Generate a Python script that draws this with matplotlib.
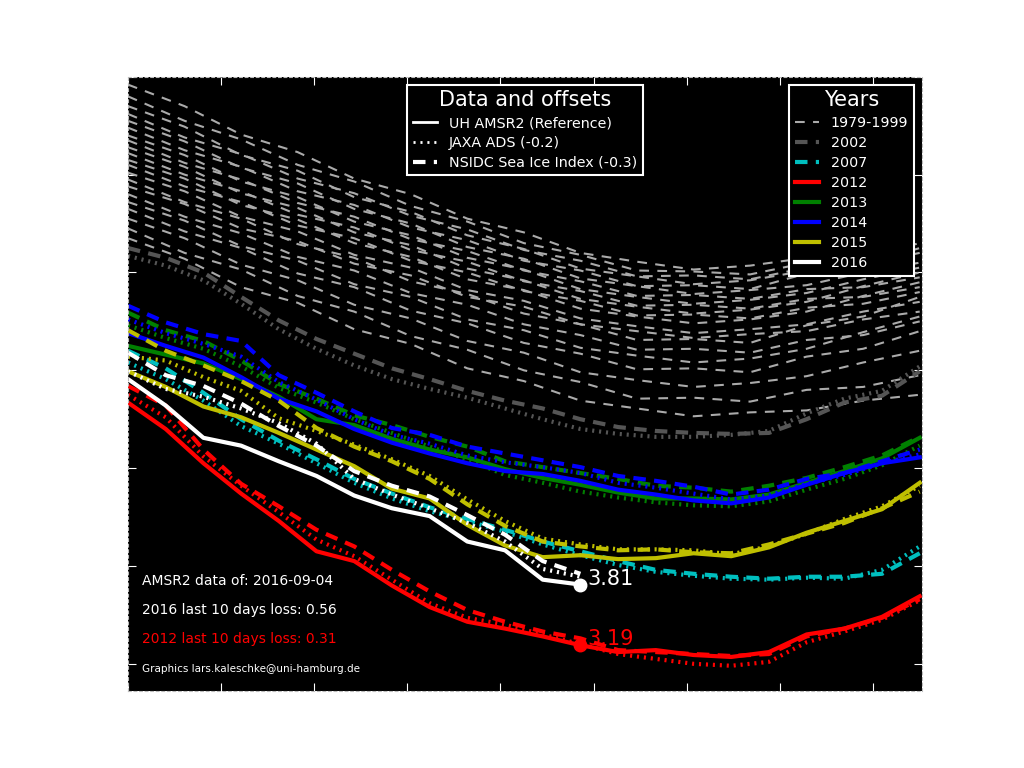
import numpy as np
import matplotlib
matplotlib.use('Agg')
import matplotlib.pyplot as plt
from matplotlib.lines import Line2D

plt.rcParams['lines.scale_dashes'] = False

# days since start of window (daily sampling thinned to every 2nd / 3rd day)
days = np.arange(0, 43, 2)
days_hist = np.arange(0, 43, 3)
days_2016 = np.arange(0, 25, 2)

# 1979-1999 climatology years (NSIDC only)
hist_1979_1999 = [
    [8.92, 8.70, 8.41, 8.23, 7.96, 7.80, 7.55, 7.41, 7.20, 7.11, 7.03, 7.07, 7.15, 7.31, 7.45],
    [8.80, 8.55, 8.36, 8.10, 7.93, 7.68, 7.52, 7.30, 7.18, 7.02, 7.01, 6.98, 7.10, 7.16, 7.30],
    [8.70, 8.49, 8.20, 8.04, 7.77, 7.62, 7.38, 7.24, 7.04, 6.96, 6.88, 6.92, 7.02, 7.19, 7.35],
    [8.62, 8.38, 8.21, 7.96, 7.81, 7.58, 7.44, 7.23, 7.12, 6.96, 6.97, 6.93, 7.05, 7.08, 7.20],
    [8.55, 8.34, 8.07, 7.91, 7.65, 7.50, 7.26, 7.14, 6.94, 6.86, 6.78, 6.82, 6.87, 7.00, 7.10],
    [8.48, 8.25, 8.08, 7.83, 7.69, 7.46, 7.33, 7.12, 7.02, 6.86, 6.87, 6.83, 6.99, 7.07, 7.25],
    [8.40, 8.20, 7.93, 7.77, 7.52, 7.38, 7.15, 7.03, 6.83, 6.75, 6.68, 6.72, 6.79, 6.93, 7.05],
    [8.35, 8.12, 7.95, 7.71, 7.57, 7.34, 7.22, 7.02, 6.91, 6.76, 6.77, 6.73, 6.83, 6.85, 6.95],
    [8.28, 8.08, 7.81, 7.66, 7.41, 7.28, 7.04, 6.92, 6.73, 6.65, 6.58, 6.62, 6.70, 6.86, 7.00],
    [8.22, 8.00, 7.83, 7.59, 7.46, 7.23, 7.11, 6.91, 6.81, 6.66, 6.67, 6.63, 6.73, 6.75, 6.85],
    [8.15, 7.96, 7.69, 7.54, 7.30, 7.16, 6.93, 6.82, 6.63, 6.55, 6.48, 6.52, 6.60, 6.76, 6.90],
    [8.10, 7.88, 7.72, 7.48, 7.35, 7.12, 7.00, 6.81, 6.71, 6.56, 6.57, 6.53, 6.64, 6.68, 6.80],
    [8.02, 7.83, 7.57, 7.42, 7.18, 7.05, 6.82, 6.71, 6.53, 6.45, 6.38, 6.42, 6.47, 6.60, 6.70],
    [7.95, 7.72, 7.55, 7.29, 7.15, 6.91, 6.78, 6.58, 6.47, 6.31, 6.32, 6.28, 6.46, 6.55, 6.75],
    [7.88, 7.70, 7.45, 7.32, 7.09, 6.97, 6.75, 6.65, 6.47, 6.40, 6.33, 6.37, 6.40, 6.52, 6.60],
    [7.80, 7.57, 7.40, 7.16, 7.02, 6.79, 6.67, 6.47, 6.36, 6.21, 6.22, 6.18, 6.31, 6.36, 6.50],
    [7.72, 7.53, 7.27, 7.12, 6.88, 6.75, 6.52, 6.41, 6.23, 6.15, 6.08, 6.12, 6.22, 6.39, 6.55],
    [7.65, 7.42, 7.25, 6.99, 6.85, 6.61, 6.48, 6.28, 6.17, 6.01, 6.02, 5.98, 6.14, 6.22, 6.40],
    [7.55, 7.35, 7.08, 6.92, 6.67, 6.53, 6.30, 6.18, 5.98, 5.90, 5.83, 5.87, 5.94, 6.08, 6.20],
    [7.45, 7.20, 7.03, 6.76, 6.60, 6.35, 6.21, 6.00, 5.88, 5.71, 5.72, 5.68, 5.80, 5.83, 5.95],
    [7.35, 7.14, 6.85, 6.69, 6.42, 6.27, 6.02, 5.89, 5.69, 5.61, 5.53, 5.57, 5.59, 5.69, 5.75],
]

# 2002 and 2007 (JAXA dotted, NSIDC dashed; offsets already applied)
jaxa_2002 = [7.17, 7.07, 6.92, 6.68, 6.42, 6.22, 6.05, 5.91, 5.81, 5.72, 5.61,
             5.50, 5.40, 5.35, 5.32, 5.32, 5.34, 5.38, 5.56, 5.71, 5.79, 6.04]
nsidc_2002 = [7.25, 7.15, 7.00, 6.75, 6.51, 6.32, 6.17, 6.02, 5.91, 5.79, 5.69,
              5.61, 5.50, 5.42, 5.38, 5.36, 5.35, 5.36, 5.50, 5.67, 5.74, 5.99]
jaxa_2007 = [6.08, 5.91, 5.69, 5.43, 5.25, 5.05, 4.85, 4.69, 4.56, 4.46, 4.35,
             4.22, 4.11, 4.01, 3.94, 3.90, 3.87, 3.86, 3.88, 3.87, 3.96, 4.20]
nsidc_2007 = [6.20, 6.02, 5.77, 5.50, 5.28, 5.09, 4.89, 4.74, 4.60, 4.48, 4.37,
              4.25, 4.15, 4.05, 3.96, 3.92, 3.89, 3.87, 3.89, 3.89, 3.92, 4.13]

# 2012-2015: UH AMSR2 (solid), JAXA (dotted), NSIDC (dashed)
amsr2_2012 = [5.67, 5.40, 5.05, 4.74, 4.46, 4.15, 4.05, 3.80, 3.58, 3.43, 3.36,
              3.28, 3.19, 3.12, 3.14, 3.09, 3.07, 3.12, 3.30, 3.36, 3.48, 3.69]
jaxa_2012 = [5.75, 5.52, 5.12, 4.82, 4.55, 4.27, 4.10, 3.86, 3.62, 3.47, 3.40,
             3.30, 3.20, 3.10, 3.05, 3.00, 2.98, 3.02, 3.22, 3.33, 3.45, 3.65]
nsidc_2012 = [5.84, 5.64, 5.19, 4.84, 4.61, 4.37, 4.20, 3.96, 3.74, 3.55, 3.43,
              3.33, 3.26, 3.14, 3.12, 3.10, 3.08, 3.10, 3.28, 3.36, 3.47, 3.66]

amsr2_2013 = [6.25, 6.16, 6.07, 5.91, 5.73, 5.50, 5.44, 5.30, 5.19, 5.11, 4.99,
              4.90, 4.83, 4.75, 4.69, 4.69, 4.68, 4.73, 4.85, 4.97, 5.10, 5.31]
jaxa_2013 = [6.46, 6.33, 6.22, 6.04, 5.82, 5.67, 5.50, 5.36, 5.22, 5.09, 4.93,
             4.85, 4.76, 4.70, 4.65, 4.62, 4.61, 4.66, 4.78, 4.89, 5.03, 5.23]
nsidc_2013 = [6.59, 6.41, 6.30, 6.10, 5.86, 5.71, 5.54, 5.44, 5.32, 5.22, 5.07,
              5.01, 4.95, 4.89, 4.82, 4.80, 4.76, 4.82, 4.90, 5.01, 5.13, 5.32]

amsr2_2014 = [6.38, 6.25, 6.13, 5.93, 5.71, 5.58, 5.40, 5.26, 5.15, 5.05, 4.97,
              4.94, 4.87, 4.78, 4.73, 4.67, 4.64, 4.70, 4.83, 4.95, 5.05, 5.11]
jaxa_2014 = [6.52, 6.38, 6.27, 6.14, 5.88, 5.70, 5.50, 5.34, 5.25, 5.13, 5.06,
             5.01, 4.95, 4.85, 4.80, 4.74, 4.68, 4.72, 4.84, 4.93, 5.05, 5.14]
nsidc_2014 = [6.66, 6.49, 6.37, 6.30, 5.95, 5.77, 5.58, 5.41, 5.34, 5.22, 5.15,
              5.08, 5.01, 4.92, 4.87, 4.81, 4.73, 4.78, 4.89, 4.95, 5.07, 5.19]

amsr2_2015 = [5.99, 5.83, 5.63, 5.52, 5.36, 5.19, 5.02, 4.79, 4.69, 4.42, 4.21,
              4.09, 4.11, 4.07, 4.08, 4.13, 4.10, 4.19, 4.34, 4.46, 4.58, 4.85]
jaxa_2015 = [6.14, 6.10, 5.93, 5.79, 5.51, 5.38, 5.24, 5.09, 4.92, 4.68, 4.46,
             4.28, 4.22, 4.17, 4.17, 4.16, 4.12, 4.20, 4.33, 4.48, 4.61, 4.82]
nsidc_2015 = [6.41, 6.20, 6.05, 5.89, 5.69, 5.41, 5.22, 5.07, 4.89, 4.63, 4.41,
              4.25, 4.20, 4.16, 4.17, 4.14, 4.13, 4.22, 4.33, 4.44, 4.59, 4.76]

# 2016 (ends 2016-09-04)
amsr2_2016 = [5.91, 5.64, 5.31, 5.23, 5.07, 4.92, 4.72, 4.59, 4.51, 4.25, 4.16, 3.86, 3.81]
jaxa_2016 = [5.99, 5.81, 5.73, 5.61, 5.46, 5.25, 4.89, 4.73, 4.59, 4.44, 4.25, 3.97, 3.89]
nsidc_2016 = [6.18, 5.95, 5.84, 5.66, 5.43, 5.23, 4.97, 4.82, 4.71, 4.52, 4.32, 4.05, 3.92]

last_day = 24
last_2016 = 3.81
last_2012 = 3.19
loss_2016 = 0.56
loss_2012 = 0.31

DASHED = (0, (9, 6))
DOTTED = (0, (1.5, 3.5))
HIST_DASH = (0, (7, 6))

fig = plt.figure(figsize=(10.24, 7.68), dpi=100)
fig.patch.set_facecolor('white')
ax = fig.add_axes([0.125, 0.1, 0.775, 0.8])
ax.set_facecolor('black')

# climatology
for series in hist_1979_1999:
    ax.plot(days_hist, series, color='#aaaaaa', lw=1.5, linestyle=HIST_DASH)

# 2002, 2007
ax.plot(days, jaxa_2002, color='#555555', lw=3, linestyle=DOTTED, dash_capstyle='butt')
ax.plot(days, nsidc_2002, color='#555555', lw=3, linestyle=DASHED)
ax.plot(days, jaxa_2007, color='c', lw=3, linestyle=DOTTED, dash_capstyle='butt')
ax.plot(days, nsidc_2007, color='c', lw=3, linestyle=DASHED)

# AMSR2 era
years = [
    ('r', amsr2_2012, jaxa_2012, nsidc_2012),
    ('g', amsr2_2013, jaxa_2013, nsidc_2013),
    ('b', amsr2_2014, jaxa_2014, nsidc_2014),
    ('y', amsr2_2015, jaxa_2015, nsidc_2015),
]
for col, amsr, jaxa, nsidc in years:
    ax.plot(days, jaxa, color=col, lw=3, linestyle=DOTTED, dash_capstyle='butt')
    ax.plot(days, nsidc, color=col, lw=3, linestyle=DASHED)
    ax.plot(days, amsr, color=col, lw=3)

ax.plot(days_2016, jaxa_2016, color='white', lw=3, linestyle=DOTTED, dash_capstyle='butt')
ax.plot(days_2016, nsidc_2016, color='white', lw=3, linestyle=DASHED)
ax.plot(days_2016, amsr2_2016, color='white', lw=3)

# end markers and values
ax.plot(last_day, last_2016, 'o', color='white', ms=9, zorder=5)
ax.plot(last_day, last_2012, 'o', color='red', ms=9, zorder=5)
ax.text(last_day + 0.35, last_2016, '%.2f' % last_2016, color='white', fontsize=15,
        ha='left', va='baseline')
ax.text(last_day + 0.35, last_2012, '%.2f' % last_2012, color='red', fontsize=15,
        ha='left', va='baseline')

# notes
ax.text(0.018, 0.18, 'AMSR2 data of: 2016-09-04', color='white', fontsize=10,
        transform=ax.transAxes, va='center')
ax.text(0.018, 0.132, '2016 last 10 days loss: %.2f' % loss_2016, color='white',
        fontsize=10, transform=ax.transAxes, va='center')
ax.text(0.018, 0.085, '2012 last 10 days loss: %.2f' % loss_2012, color='red',
        fontsize=10, transform=ax.transAxes, va='center')
ax.text(0.018, 0.036, 'Graphics lars.kaleschke@uni-hamburg.de', color='white',
        fontsize=7.5, transform=ax.transAxes, va='center')

ax.set_xlim(0, 42.1)
ax.set_ylim(2.72, 9.0)
ax.set_xticks(np.arange(0, 42, 4.94))
ax.set_yticks(np.arange(3, 10, 1))
ax.tick_params(direction='in', color='white', labelcolor='white', length=6,
               top=True, right=True)
for sp in ax.spines.values():
    sp.set_color('#bbbbbb')
    sp.set_linestyle((0, (2, 2)))

# legends
data_handles = [
    Line2D([], [], color='white', lw=2),
    Line2D([], [], color='white', lw=2, linestyle=DOTTED, dash_capstyle='butt'),
    Line2D([], [], color='white', lw=3, linestyle=DASHED),
]
data_labels = ['UH AMSR2 (Reference)', 'JAXA ADS (-0.2)', 'NSIDC Sea Ice Index (-0.3)']
year_handles = [
    Line2D([], [], color='#aaaaaa', lw=1.5, linestyle=HIST_DASH),
    Line2D([], [], color='#555555', lw=3, linestyle=DASHED),
    Line2D([], [], color='c', lw=3, linestyle=DASHED),
    Line2D([], [], color='r', lw=3),
    Line2D([], [], color='g', lw=3),
    Line2D([], [], color='b', lw=3),
    Line2D([], [], color='y', lw=3),
    Line2D([], [], color='white', lw=3),
]
year_labels = ['1979-1999', '2002', '2007', '2012', '2013', '2014', '2015', '2016']

leg1 = ax.legend(data_handles, data_labels, loc='upper center', title='Data and offsets',
                 fontsize=10.3, title_fontsize=15, fancybox=False, framealpha=1,
                 handlelength=1.7, labelspacing=0.4, borderaxespad=0.55)
leg2 = ax.legend(year_handles, year_labels, loc='upper right', title='Years',
                 fontsize=10.3, title_fontsize=15, fancybox=False, framealpha=1,
                 handlelength=1.7, labelspacing=0.42, borderaxespad=0.55)
ax.add_artist(leg1)
for leg in (leg1, leg2):
    frame = leg.get_frame()
    frame.set_facecolor('black')
    frame.set_edgecolor('white')
    frame.set_linewidth(1.5)
    leg.get_title().set_color('white')
    for t in leg.get_texts():
        t.set_color('white')

fig.savefig('out.png', dpi=100, facecolor='white')
